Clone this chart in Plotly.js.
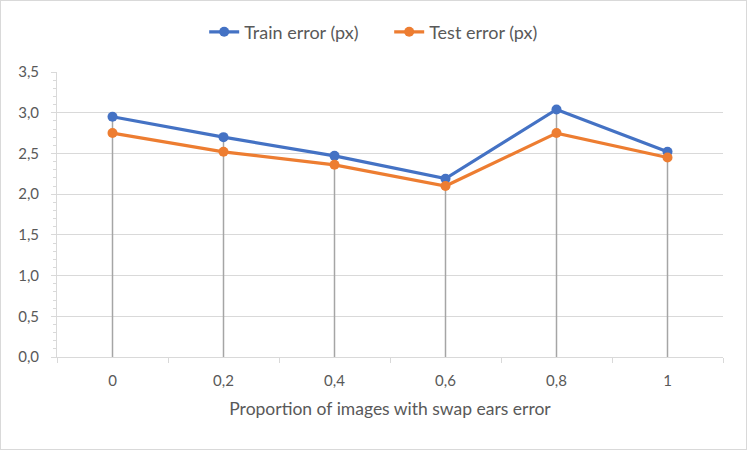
<!DOCTYPE html>
<html>
<head>
<meta charset="utf-8">
<script src="https://cdn.plot.ly/plotly-3.0.1.min.js"></script>
<style>
html,body{margin:0;padding:0;background:#fff;}
#chart{width:747px;height:450px;box-sizing:border-box;border:1px solid #d9d9d9;}
</style>
</head>
<body>
<div id="chart"></div>
<script>
const categories = ['0', '0,2', '0,4', '0,6', '0,8', '1'];
const trainError = [2.95, 2.70, 2.47, 2.19, 3.04, 2.52];
const testError = [2.75, 2.52, 2.36, 2.10, 2.75, 2.45];
const seriesNames = ['Train error (px)', 'Test error (px)'];
const xTitle = 'Proportion of images with swap ears error';

const dropX = [], dropY = [];
categories.forEach((c, i) => {
  dropX.push(c, c, null);
  dropY.push(Math.max(trainError[i], testError[i]), 0, null);
});

const fam = 'Lato, "Open Sans", sans-serif';
const grey = '#595959';

const traces = [
  {x: dropX, y: dropY, type: 'scatter', mode: 'lines', line: {color: '#a5a5a5', width: 1.5},
   showlegend: false, hoverinfo: 'skip', connectgaps: false},
  {x: categories, y: trainError, name: seriesNames[0], type: 'scatter', mode: 'lines+markers',
   line: {color: '#4472C4', width: 3.2}, marker: {color: '#4472C4', size: 10}},
  {x: categories, y: testError, name: seriesNames[1], type: 'scatter', mode: 'lines+markers',
   line: {color: '#ED7D31', width: 3.2}, marker: {color: '#ED7D31', size: 10}}
];

const layout = {
  width: 745, height: 448,
  margin: {l: 56, r: 23, t: 71, b: 92, autoexpand: false},
  paper_bgcolor: '#fff', plot_bgcolor: '#fff',
  font: {family: fam, color: grey, size: 15},
  separators: ', ',
  showlegend: true,
  legend: {orientation: 'h', x: 0.221, xanchor: 'left', y: 1.14, yanchor: 'middle',
           entrywidth: 140, entrywidthmode: 'pixels',
           font: {family: fam, size: 18, color: grey}, tracegroupgap: 0},
  xaxis: {
    type: 'category', categoryorder: 'array', categoryarray: categories,
    range: [-0.5, 5.5], showgrid: false, zeroline: false,
    showline: true, linecolor: '#d9d9d9', linewidth: 1,
    ticks: 'outside', tickson: 'boundaries', ticklen: 5, tickcolor: '#d9d9d9',
    ticklabelstandoff: 10,
    tickfont: {family: fam, size: 15, color: grey},
    title: {text: xTitle, font: {family: fam, size: 17.5, color: grey}, standoff: 14},
    automargin: false,
    fixedrange: true
  },
  yaxis: {
    range: [0, 3.5], dtick: 0.5, tickformat: '.1f',
    showgrid: true, gridcolor: '#d9d9d9', gridwidth: 1, zeroline: false,
    showline: true, linecolor: '#d9d9d9', linewidth: 1,
    ticks: 'outside', ticklen: 5, tickcolor: '#d9d9d9',
    minor: {dtick: 0.1, ticks: 'outside', ticklen: 3, tickcolor: '#d9d9d9', showgrid: false},
    ticklabelstandoff: 9,
    tickfont: {family: fam, size: 15, color: grey},
    automargin: false,
    fixedrange: true
  }
};

Plotly.newPlot('chart', traces, layout, {displayModeBar: false, staticPlot: true});
</script>
</body>
</html>
